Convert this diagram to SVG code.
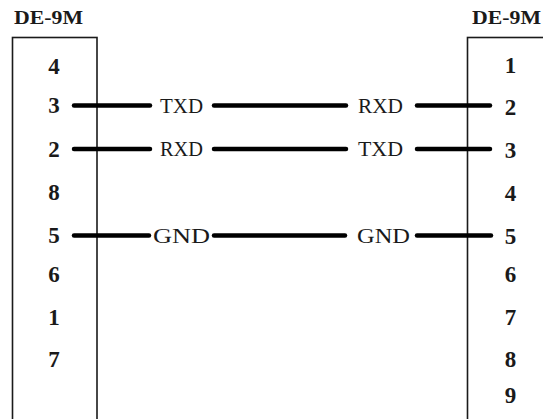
<svg xmlns="http://www.w3.org/2000/svg" width="543" height="419" viewBox="0 0 543 419">
<style>
.box{fill:none;stroke:#1a1a1a;stroke-width:1.6}
.title{font-family:"Liberation Serif",serif;font-weight:bold;font-size:19px;fill:#1a1a1a}
.pin{font-family:"Liberation Serif",serif;font-weight:bold;font-size:23px;fill:#1a1a1a;text-anchor:middle}
.wire{stroke:#000;stroke-width:4.5;stroke-linecap:round;fill:none}
.sig{font-family:"Liberation Serif",serif;font-size:20px;fill:#1a1a1a}
</style>
<rect width="543" height="419" fill="#fff"/>
<g id="left-connector">
<text class="title" x="14" y="24" textLength="69" lengthAdjust="spacingAndGlyphs">DE-9M</text>
<rect class="box" x="12.5" y="37.5" width="84.5" height="400"/>
<text class="pin" x="54" y="74">4</text>
<text class="pin" x="54" y="113">3</text>
<text class="pin" x="54" y="157">2</text>
<text class="pin" x="54" y="200">8</text>
<text class="pin" x="54" y="243">5</text>
<text class="pin" x="54" y="282">6</text>
<text class="pin" x="54" y="325">1</text>
<text class="pin" x="54" y="367">7</text>
</g>
<g id="right-connector">
<text class="title" x="472" y="24" textLength="69" lengthAdjust="spacingAndGlyphs">DE-9M</text>
<rect class="box" x="467.5" y="37.5" width="100" height="400"/>
<text class="pin" x="510.5" y="73">1</text>
<text class="pin" x="510.5" y="115">2</text>
<text class="pin" x="510.5" y="158">3</text>
<text class="pin" x="510.5" y="201">4</text>
<text class="pin" x="510.5" y="244">5</text>
<text class="pin" x="510.5" y="282">6</text>
<text class="pin" x="510.5" y="325">7</text>
<text class="pin" x="510.5" y="367">8</text>
<text class="pin" x="510.5" y="403">9</text>
</g>
<g id="connectors">
<line class="wire" x1="74" y1="105.5" x2="150" y2="105.5"/>
<line class="wire" x1="214" y1="105.5" x2="346" y2="105.5"/>
<line class="wire" x1="417" y1="105.5" x2="490" y2="105.5"/>
<text class="sig" x="160" y="112.5" textLength="43" lengthAdjust="spacingAndGlyphs">TXD</text>
<text class="sig" x="358" y="112.5" textLength="45" lengthAdjust="spacingAndGlyphs">RXD</text>
<line class="wire" x1="74" y1="149" x2="150" y2="149"/>
<line class="wire" x1="214" y1="149" x2="346" y2="149"/>
<line class="wire" x1="417" y1="149" x2="490" y2="149"/>
<text class="sig" x="160" y="156" textLength="43" lengthAdjust="spacingAndGlyphs">RXD</text>
<text class="sig" x="358" y="156" textLength="45" lengthAdjust="spacingAndGlyphs">TXD</text>
<line class="wire" x1="74" y1="235.5" x2="149" y2="235.5"/>
<line class="wire" x1="214" y1="235.5" x2="345" y2="235.5"/>
<line class="wire" x1="417" y1="235.5" x2="491" y2="235.5"/>
<text class="sig" x="153" y="242.5" textLength="57" lengthAdjust="spacingAndGlyphs">GND</text>
<text class="sig" x="357" y="242.5" textLength="53" lengthAdjust="spacingAndGlyphs">GND</text>
</g>
</svg>
